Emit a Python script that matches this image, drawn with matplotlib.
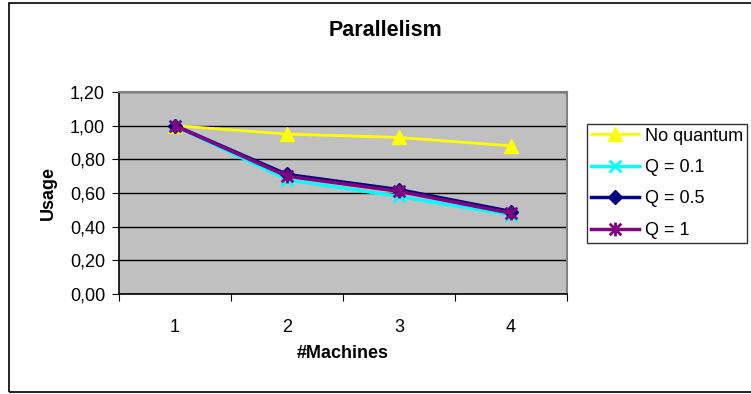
import matplotlib.pyplot as plt
import numpy as np
from matplotlib.path import Path
from matplotlib.patches import Rectangle
from matplotlib.ticker import FuncFormatter

plt.rcParams['font.family'] = ['Liberation Sans', 'DejaVu Sans']

machines = [1, 2, 3, 4]
no_quantum = [1.00, 0.95, 0.93, 0.88]
q_01 = [1.00, 0.68, 0.58, 0.47]
q_05 = [1.00, 0.71, 0.62, 0.49]
q_1 = [1.00, 0.70, 0.61, 0.48]

# excel style asterisk marker
star = Path([(-1, -1), (1, 1), (-1, 1), (1, -1), (0, -1.2), (0, 1.2)],
            [Path.MOVETO, Path.LINETO, Path.MOVETO, Path.LINETO, Path.MOVETO, Path.LINETO])

fig = plt.figure(figsize=(7.51, 3.94), dpi=100)
W, H = 751, 394
ax = fig.add_axes([119 / W, 1 - 294 / H, (567 - 119) / W, (294 - 92) / H])
ax.set_facecolor('#C0C0C0')

ax.plot(machines, no_quantum, color='#FFFF00', lw=2, marker='^', ms=10, label='No quantum', zorder=3)
ax.plot(machines, q_01, color='#00FFFF', lw=2.5, marker='x', ms=9, mew=2, label='Q = 0.1', zorder=4)
ax.plot(machines, q_05, color='#000080', lw=2.5, marker='D', ms=7, label='Q = 0.5', zorder=5)
ax.plot(machines, q_1, color='#800080', lw=2.5, marker=star, ms=10, mew=2, mfc='none', label='Q = 1', zorder=6)

ax.set_xlim(0.5, 4.5)
ax.set_ylim(0, 1.2)
ax.set_yticks(np.arange(0, 1.21, 0.2))
ax.yaxis.set_major_formatter(FuncFormatter(lambda v, p: f'{v:.2f}'.replace('.', ',')))
ax.grid(axis='y', color='black', lw=1)
ax.set_axisbelow(True)

ax.set_xticks([0.5, 1.5, 2.5, 3.5, 4.5])
ax.set_xticklabels([])
ax.set_xticks(machines, minor=True)
ax.set_xticklabels([str(m) for m in machines], minor=True)
ax.tick_params(axis='x', which='major', length=5, direction='out')
ax.tick_params(axis='x', which='minor', length=0, pad=18, labelsize=13)
ax.tick_params(axis='y', length=5, direction='out', pad=5, labelsize=13)

for s in ['top', 'right']:
    ax.spines[s].set_color('#808080')
    ax.spines[s].set_linewidth(1.5)
for s in ['left', 'bottom']:
    ax.spines[s].set_color('black')
    ax.spines[s].set_linewidth(1.2)

fig.text(48 / W, 1 - 193 / H, 'Usage', rotation=90, ha='center', va='center', fontsize=13, fontweight='bold')
fig.text(343 / W, 1 - 353 / H, '#Machines', ha='center', va='center', fontsize=13, fontweight='bold')
fig.text(386 / W, 1 - 30 / H, 'Parallelism', ha='center', va='center', fontsize=15.5, fontweight='bold')

leg = ax.legend(loc='upper left', bbox_to_anchor=(587 / W, 1 - 124 / H), bbox_transform=fig.transFigure,
                fontsize=13, frameon=True, fancybox=False, handlelength=2.7, handletextpad=0.3,
                labelspacing=0.8, borderpad=0.2, borderaxespad=0)
leg.get_frame().set_edgecolor('black')
leg.get_frame().set_linewidth(1)

fig.patches.append(Rectangle((9 / W, 2 / H), 1.2, 1 - 5 / H, transform=fig.transFigure,
                             fill=False, edgecolor='black', lw=1.2, clip_on=False))

fig.savefig('out.png', dpi=100)
